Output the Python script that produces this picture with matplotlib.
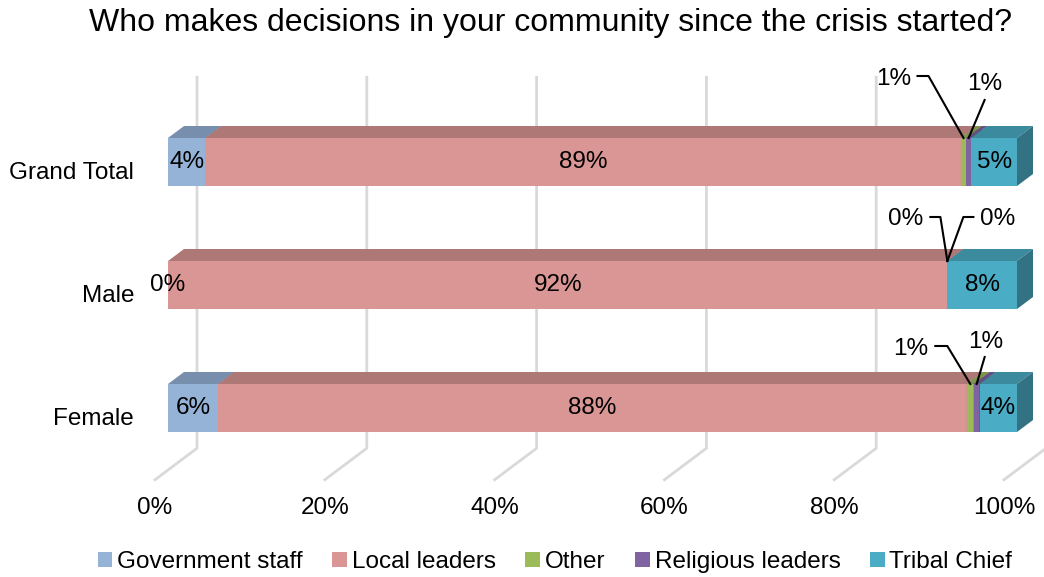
import matplotlib
matplotlib.use("Agg")
import matplotlib.pyplot as plt
from matplotlib.patches import Polygon, Rectangle
from matplotlib.lines import Line2D
from matplotlib.transforms import Affine2D, ScaledTranslation
from matplotlib.colors import to_rgb

plt.rcParams["font.family"] = ["Liberation Sans", "DejaVu Sans"]

# ---- data -------------------------------------------------------------
categories = ["Female", "Male", "Grand Total"]          # bottom -> top
series = ["Government staff", "Local leaders", "Other",
          "Religious leaders", "Tribal Chief"]
government_staff = [5.9, 0.0, 4.4]
local_leaders = [88.2, 91.8, 89.0]
other = [0.8, 0.0, 0.6]
religious_leaders = [0.7, 0.0, 0.6]
tribal_chief = [4.4, 8.2, 5.4]
tick_values = [0, 20, 40, 60, 80, 100]
tick_labels = ["0%", "20%", "40%", "60%", "80%", "100%"]
title = "Who makes decisions in your community since the crisis started?"

values = [government_staff, local_leaders, other, religious_leaders, tribal_chief]
colors = ["#95B3D7", "#D99694", "#9BBB59", "#8064A2", "#4BACC6"]

FS = 17.5

# ---- figure & axes ----------------------------------------------------
W, H, DPI = 1044, 577, 100
fig = plt.figure(figsize=(W / DPI, H / DPI), dpi=DPI)
fig.patch.set_facecolor("white")
ax = fig.add_axes([168 / W, (H - 469.5) / H, 849 / W, 369 / H])
ax.set_xlim(0, 100)
ax.set_ylim(-0.5, 2.5)
ax.axis("off")

px_x = 849 / 100.0      # pixels per percent
px_y = 369 / 3.0        # pixels per category step
bar_h = 48 / px_y       # bar thickness in data units
DEPTH = 16              # receding depth of the boxes, pixels
SLOPE = 0.75            # vertical rise per pixel of depth


def proj(v, y, depth):
    """Shift a data point backwards by `depth` pixels of the oblique view."""
    return v + depth / px_x, y + depth * SLOPE / px_y


def shade(c, f):
    r, g, b = to_rgb(c)
    return (r * f, g * f, b * f)


# ---- floor / back wall grid ------------------------------------------
y_floor = 1 + (285 - 470) / px_y
y_wall_top = 1 + (285 - 99) / px_y
for t, lab in zip(tick_values, tick_labels):
    p1 = proj(t, y_floor, -13)
    p2 = proj(t, y_floor, 29)
    p3 = proj(t, y_wall_top, 29)
    ax.add_line(Line2D([p1[0], p2[0], p3[0]], [p1[1], p2[1], p3[1]],
                       color="#D9D9D9", lw=2.0, zorder=0, clip_on=False,
                       solid_joinstyle="miter"))
    ax.annotate(lab, xy=p1, xytext=(0, -28), textcoords="offset pixels",
                ha="center", va="center", fontsize=FS, annotation_clip=False)

# ---- 3-D stacked bars --------------------------------------------------
z = 2
for row, cat in enumerate(categories):
    left = 0.0
    y0, y1 = row - bar_h / 2, row + bar_h / 2
    for s, (vals, col) in enumerate(zip(values, colors)):
        w = vals[row]
        right = left + w
        if w > 0:
            ax.add_patch(Rectangle((left, y0), w, bar_h, facecolor=col,
                                   edgecolor="none", zorder=z))
            top = [(left, y1), (right, y1), proj(right, y1, DEPTH),
                   proj(left, y1, DEPTH)]
            ax.add_patch(Polygon(top, closed=True, facecolor=shade(col, 0.8),
                                 edgecolor="none", zorder=z, clip_on=False))
            side = [(right, y0), (right, y1), proj(right, y1, DEPTH),
                    proj(right, y0, DEPTH)]
            ax.add_patch(Polygon(side, closed=True, facecolor=shade(col, 0.66),
                                 edgecolor="none", zorder=z, clip_on=False))
            z += 1
        left = right

# ---- data labels --------------------------------------------------------
# leader offsets in pixels from the top-front centre of a thin segment:
# (label position, leader polyline)
leaders = {
    (2, 2): ((-70, 59), [(0, 0), (-35, 62), (-46, 62)]),
    (2, 3): ((16, 54), [(0, 0), (16, 38)]),
    (1, 2): ((-42, 42), [(0, 0), (-7, 44), (-17, 44)]),
    (1, 3): ((50, 42), [(0, 0), (16, 44), (26, 44)]),
    (0, 2): ((-60, 35), [(0, 0), (-23, 38), (-35, 38)]),
    (0, 3): ((9, 42), [(0, 0), (8, 27)]),
}
for row in range(len(categories)):
    left = 0.0
    for s, vals in enumerate(values):
        w = vals[row]
        mid = left + w / 2
        text = f"{w:.0f}%"
        if (row, s) in leaders:
            (tx, ty), pts = leaders[(row, s)]
            anchor = (mid, row + bar_h / 2)
            tr = Affine2D() + ScaledTranslation(anchor[0], anchor[1], ax.transData)
            ax.add_line(Line2D([p[0] for p in pts], [p[1] for p in pts],
                               transform=tr, color="black", lw=1.5,
                               zorder=50, clip_on=False))
            ax.annotate(text, xy=anchor, xytext=(tx, ty),
                        textcoords="offset pixels", ha="center", va="center",
                        fontsize=FS, zorder=51, annotation_clip=False)
        else:
            ax.text(mid, row, text, ha="center", va="center", fontsize=FS,
                    zorder=51)
        left += w

# ---- category labels ----------------------------------------------------
for row, cat in enumerate(categories):
    ax.annotate(cat, xy=(0, row), xytext=(-34, -11), textcoords="offset pixels",
                ha="right", va="center", fontsize=FS, annotation_clip=False)

# ---- title & legend -----------------------------------------------------
fig.text(551 / W, 1 - 23 / H, title, ha="center", va="center", fontsize=23)

handles = [Rectangle((0, 0), 1, 1, facecolor=c, edgecolor="none") for c in colors]
fig.legend(handles, series, loc="center", bbox_to_anchor=(555 / W, 1 - 562 / H),
           ncol=5, frameon=False, fontsize=FS, handlelength=0.6,
           handleheight=0.6, handletextpad=0.2, columnspacing=1.22,
           borderaxespad=0)

fig.savefig("out.png", dpi=DPI, facecolor="white")
